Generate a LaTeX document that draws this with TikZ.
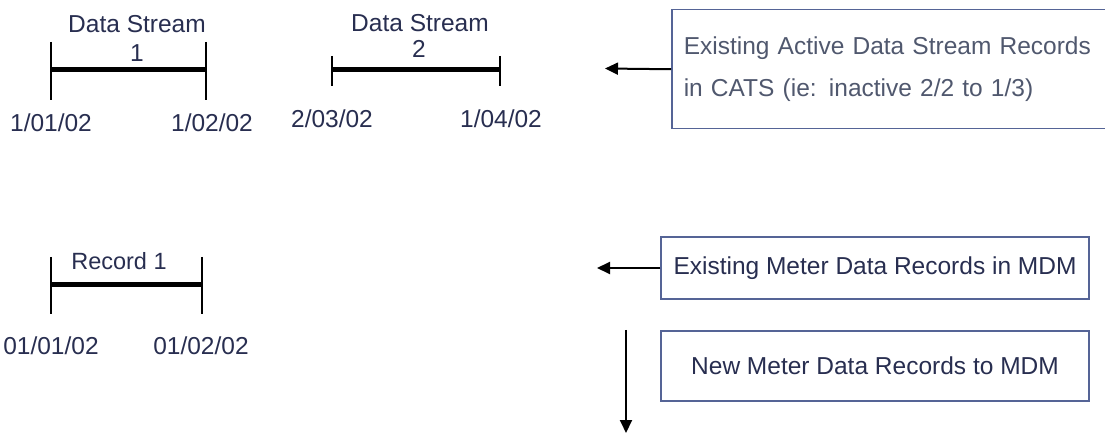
\documentclass[tikz,border=0pt]{standalone}
\usepackage{fontspec}
\setmainfont{Liberation Sans}
\usetikzlibrary{arrows.meta}
\definecolor{txt}{RGB}{40,46,80}
\definecolor{txtgray}{RGB}{80,88,110}
\definecolor{boxc}{RGB}{85,100,150}
\begin{document}
\begin{tikzpicture}[x=1pt,y=-1pt,
  lbl/.style={anchor=base,inner sep=0pt,text=txt,font=\fontsize{24.5}{29}\selectfont},
  tickline/.style={line width=2pt},
  barline/.style={line width=5pt},
  infobox/.style={draw=boxc,line width=1.5pt,font=\fontsize{24.5}{29}\selectfont,text=txt},
  arr/.style={line width=2pt,-{Triangle[length=13pt,width=12pt]}}]
\useasboundingbox (0,0) rectangle (1105,435);
\clip (0,0) rectangle (1105,435);
% Data stream 1
\node[lbl] (ds1t) at (137,33) {Data Stream};
\node[lbl] (ds1n) at (137,62) {1};
\draw[tickline] (51,42) -- (51,100);
\draw[tickline] (206,42) -- (206,100);
\draw[barline] (51,70) -- (206,70);
\node[lbl] (ds1a) at (51,132) {1/01/02};
\node[lbl] (ds1b) at (212,132) {1/02/02};
% Data stream 2
\node[lbl] (ds2t) at (420,32) {Data Stream};
\node[lbl] (ds2n) at (419,58) {2};
\draw[tickline] (332,56) -- (332,86);
\draw[tickline] (500,56) -- (500,86);
\draw[barline] (332,70) -- (500,70);
\node[lbl] (ds2a) at (332,128) {2/03/02};
\node[lbl] (ds2b) at (501,128) {1/04/02};
% Record 1
\node[lbl,font=\fontsize{23.5}{28}\selectfont] (r1t) at (119,270) {Record 1};
\draw[tickline] (51,257) -- (51,314);
\draw[tickline] (202,257) -- (202,314);
\draw[barline] (51,285) -- (202,285);
\node[lbl] (r1a) at (51,355) {01/01/02};
\node[lbl] (r1b) at (201,355) {01/02/02};
% boxes
\node[infobox,text=txtgray,anchor=north west,minimum width=444pt,minimum height=119pt,
      text width=420pt,inner xsep=12pt,align=left] (b1) at (671,9)
  {Existing Active Data Stream Records\\[13pt]in CATS (ie: inactive 2/2 to 1/3)};
\node[infobox,minimum width=428pt,minimum height=62pt] (b2) at (875,268)
  {Existing Meter Data Records in MDM};
\node[infobox,minimum width=428pt,minimum height=70pt] (b3) at (875,366)
  {New Meter Data Records to MDM};
% arrows
\coordinate (a1) at (605,68.5);
\coordinate (a2) at (597,268);
\coordinate (d0) at (626,330);
\coordinate (d1) at (626,433);
\draw[arr] (b1.west) -- (a1);
\draw[arr] (b2.west) -- (a2);
\draw[arr] (d0) -- (d1);
\end{tikzpicture}
\end{document}
